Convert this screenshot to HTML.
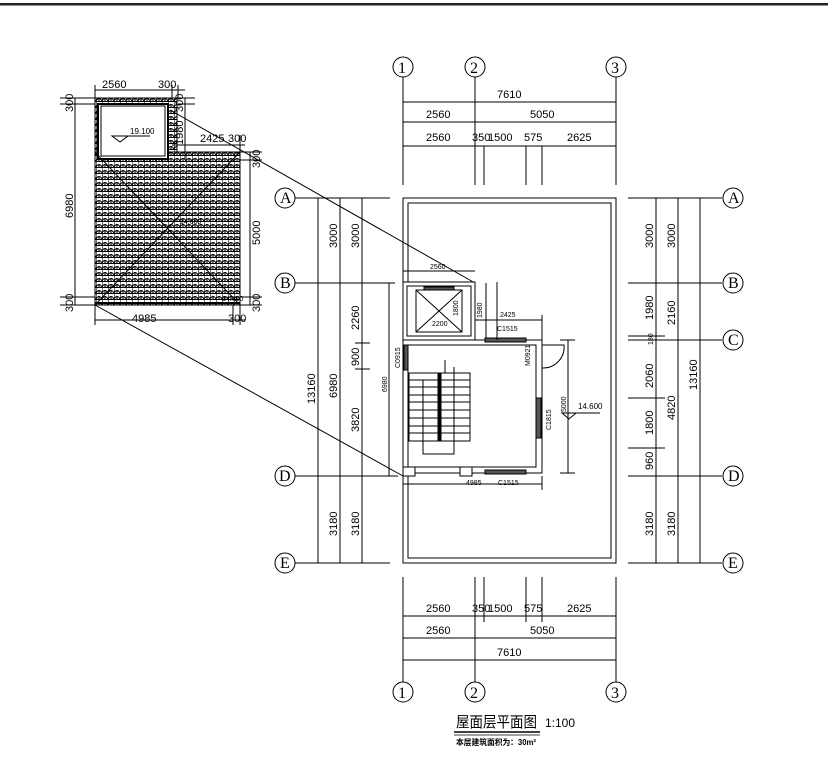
<!DOCTYPE html>
<html><head><meta charset="utf-8"><style>
html,body{margin:0;padding:0;background:#fff}
svg{display:block}
text{font-family:"Liberation Sans",sans-serif;font-size:11px;fill:#000}
.s{font-size:7px}
.c{font-family:"Liberation Serif",serif;font-size:16px}
</style></head><body>
<svg width="828" height="766" viewBox="0 0 828 766" xmlns="http://www.w3.org/2000/svg">
<defs>
<pattern id="tile" width="6" height="6" patternUnits="userSpaceOnUse">
<rect width="6" height="6" fill="#fff"/>
<path d="M0 5 Q3 0 6 5 M0 5.5 H6 M0 0 V6 M3 2 V5" stroke="#000" stroke-width="1.1" fill="none"/>
</pattern>
</defs>
<rect x="0" y="3" width="828" height="2.5" fill="#222"/>
<g stroke="#000" stroke-width="1" fill="none">
<!-- left detail -->
<rect x="95" y="98" width="82" height="62" fill="url(#tile)"/>
<rect x="95" y="152" width="145" height="153" fill="url(#tile)"/>
<rect x="98" y="104" width="70" height="55" fill="#fff" stroke-width="2"/>
<rect x="101" y="106" width="64" height="50" fill="#fff"/>
<line x1="95" y1="305" x2="240" y2="152"/>
<line x1="95" y1="152" x2="240" y2="305"/>
<line x1="95" y1="303" x2="240" y2="303" stroke-width="2"/>
<line x1="170" y1="110" x2="475" y2="283"/>
<line x1="95" y1="305" x2="403" y2="476"/>
<line x1="75" y1="98" x2="75" y2="305"/>
<line x1="60" y1="98" x2="95" y2="98"/><line x1="60" y1="104" x2="95" y2="104"/>
<line x1="60" y1="297" x2="95" y2="297"/><line x1="60" y1="305" x2="95" y2="305"/>
<line x1="95" y1="90" x2="185" y2="90"/>
<line x1="95" y1="85" x2="95" y2="98"/><line x1="172" y1="85" x2="172" y2="98"/><line x1="178" y1="85" x2="178" y2="98"/>
<line x1="185" y1="98" x2="185" y2="160"/>
<line x1="178" y1="98" x2="195" y2="98"/><line x1="178" y1="104" x2="195" y2="104"/>
<line x1="172" y1="145" x2="245" y2="145"/>
<line x1="240" y1="135" x2="240" y2="152"/>
<line x1="250" y1="152" x2="250" y2="305"/>
<line x1="240" y1="152" x2="262" y2="152"/><line x1="240" y1="160" x2="262" y2="160"/>
<line x1="240" y1="297" x2="262" y2="297"/><line x1="240" y1="305" x2="262" y2="305"/>
<line x1="95" y1="320" x2="245" y2="320"/>
<line x1="95" y1="305" x2="95" y2="325"/><line x1="233" y1="305" x2="233" y2="325"/><line x1="240" y1="305" x2="240" y2="325"/>
<path d="M112 136 L120 142 L128 136 Z M120 136 H150"/>
<!-- grid top -->
<line x1="403" y1="77" x2="403" y2="185"/><line x1="475" y1="77" x2="475" y2="185"/><line x1="616" y1="77" x2="616" y2="185"/>
<line x1="484" y1="146" x2="484" y2="185"/><line x1="526" y1="146" x2="526" y2="185"/><line x1="542" y1="146" x2="542" y2="185"/>
<line x1="403" y1="102" x2="616" y2="102"/><line x1="403" y1="122" x2="616" y2="122"/><line x1="403" y1="146" x2="616" y2="146"/>
<circle cx="403" cy="67" r="10"/><circle cx="475" cy="67" r="10"/><circle cx="616" cy="67" r="10"/>
<!-- grid bottom -->
<line x1="403" y1="577" x2="403" y2="682"/><line x1="475" y1="577" x2="475" y2="682"/><line x1="616" y1="577" x2="616" y2="682"/>
<line x1="484" y1="577" x2="484" y2="622"/><line x1="526" y1="577" x2="526" y2="622"/><line x1="542" y1="577" x2="542" y2="622"/>
<line x1="403" y1="616" x2="616" y2="616"/><line x1="403" y1="638" x2="616" y2="638"/><line x1="403" y1="660" x2="616" y2="660"/>
<circle cx="403" cy="692" r="10"/><circle cx="475" cy="692" r="10"/><circle cx="616" cy="692" r="10"/>
<!-- left rows -->
<line x1="295" y1="198" x2="390" y2="198"/><line x1="295" y1="283" x2="390" y2="283"/>
<line x1="295" y1="476" x2="398" y2="476"/><line x1="295" y1="563" x2="390" y2="563"/>
<line x1="318" y1="198" x2="318" y2="563"/><line x1="340" y1="198" x2="340" y2="563"/><line x1="362" y1="198" x2="362" y2="563"/>
<line x1="355" y1="343" x2="370" y2="343"/><line x1="355" y1="369" x2="370" y2="369"/>
<line x1="389" y1="283" x2="389" y2="476"/><line x1="385" y1="283" x2="395" y2="283"/>
<circle cx="285" cy="198" r="10"/><circle cx="285" cy="283" r="10"/><circle cx="285" cy="476" r="10"/><circle cx="285" cy="563" r="10"/>
<!-- right rows -->
<line x1="628" y1="198" x2="722" y2="198"/><line x1="628" y1="283" x2="722" y2="283"/>
<line x1="628" y1="340" x2="722" y2="340"/><line x1="628" y1="336" x2="665" y2="336"/>
<line x1="628" y1="476" x2="722" y2="476"/><line x1="628" y1="563" x2="722" y2="563"/>
<line x1="656" y1="198" x2="656" y2="563"/><line x1="678" y1="198" x2="678" y2="563"/><line x1="700" y1="198" x2="700" y2="563"/>
<line x1="628" y1="398" x2="665" y2="398"/><line x1="628" y1="448" x2="665" y2="448"/>
<circle cx="733" cy="198" r="10"/><circle cx="733" cy="283" r="10"/><circle cx="733" cy="340" r="10"/><circle cx="733" cy="476" r="10"/><circle cx="733" cy="563" r="10"/>
<!-- roof outline -->
<rect x="403" y="198" width="213" height="365"/>
<rect x="408" y="203" width="203" height="355"/>
<!-- building -->
<rect x="403" y="282" width="72" height="58" fill="#fff"/>
<rect x="407" y="286" width="64" height="50"/>
<rect x="416" y="290" width="46" height="42"/>
<line x1="416" y1="290" x2="462" y2="332"/><line x1="462" y1="290" x2="416" y2="332"/>
<rect x="424" y="287" width="30" height="3" fill="#555"/>
<line x1="403" y1="271" x2="475" y2="271"/>
<line x1="475" y1="320" x2="542" y2="320"/><line x1="542" y1="315" x2="542" y2="340"/>
<line x1="486" y1="283" x2="486" y2="340"/>
<path d="M403 340 H542 V473 H403 Z" fill="#fff"/>
<path d="M408 345 H536 V467 H408 Z"/>
<rect x="485" y="338" width="41" height="4" fill="#555"/>
<rect x="485" y="470" width="41" height="4" fill="#555"/>
<rect x="404" y="345" width="4" height="25" fill="#555"/>
<rect x="536" y="398" width="5" height="40" fill="#555"/>
<path d="M542 345 H564 A21 21 0 0 1 542 368"/>
<rect x="409" y="373" width="61" height="68"/>
<line x1="409" y1="380" x2="470" y2="380"/><line x1="409" y1="387" x2="470" y2="387"/>
<line x1="409" y1="395" x2="470" y2="395"/><line x1="409" y1="402" x2="470" y2="402"/>
<line x1="409" y1="410" x2="470" y2="410"/><line x1="409" y1="418" x2="470" y2="418"/>
<line x1="409" y1="426" x2="470" y2="426"/><line x1="409" y1="433" x2="470" y2="433"/>
<rect x="438" y="373" width="3" height="68" fill="#000"/>
<path d="M423 380 V454 H454 V367"/>
<rect x="403" y="467" width="12" height="9" fill="#fff"/>
<rect x="460" y="467" width="12" height="9" fill="#fff"/>
<line x1="403" y1="484" x2="542" y2="484"/><line x1="542" y1="476" x2="542" y2="490"/>
<line x1="568" y1="340" x2="568" y2="473"/>
<line x1="560" y1="340" x2="575" y2="340"/><line x1="560" y1="473" x2="575" y2="473"/>
<line x1="497" y1="282" x2="497" y2="340"/>
<path d="M562 413 L569 419 L576 413 Z M569 413 H600"/>
<line x1="445" y1="360" x2="445" y2="373"/>
</g>
<!-- text -->
<g>
<text x="102" y="88">2560</text><text x="158" y="88">300</text>
<text x="130" y="134" style="font-size:8px">19.100</text>
<text x="200" y="142">2425</text><text x="228" y="142">300</text>
<text x="132" y="322">4985</text><text x="228" y="322">300</text>
<text x="180" y="224" style="font-size:7px">14.600</text>
<text x="222" y="301" style="font-size:7px">14.600</text>
<text transform="translate(73,112) rotate(-90)">300</text>
<text transform="translate(73,218) rotate(-90)">6980</text>
<text transform="translate(73,312) rotate(-90)">300</text>
<text transform="translate(183,112) rotate(-90)">300</text>
<text transform="translate(183,145) rotate(-90)">1980</text>
<text transform="translate(260,168) rotate(-90)">300</text>
<text transform="translate(260,245) rotate(-90)">5000</text>
<text transform="translate(260,312) rotate(-90)">300</text>
<text x="497" y="98">7610</text>
<text x="426" y="118">2560</text><text x="530" y="118">5050</text>
<text x="426" y="141">2560</text><text x="472" y="141">350</text><text x="488" y="141">1500</text><text x="524" y="141">575</text><text x="567" y="141">2625</text>
<text x="426" y="612">2560</text><text x="472" y="612">350</text><text x="488" y="612">1500</text><text x="524" y="612">575</text><text x="567" y="612">2625</text>
<text x="426" y="634">2560</text><text x="530" y="634">5050</text>
<text x="497" y="656">7610</text>
<text class="c" x="398" y="73">1</text><text class="c" x="470" y="73">2</text><text class="c" x="611" y="73">3</text>
<text class="c" x="398" y="698">1</text><text class="c" x="470" y="698">2</text><text class="c" x="611" y="698">3</text>
<text class="c" x="280" y="203">A</text><text class="c" x="280" y="288">B</text><text class="c" x="279" y="481">D</text><text class="c" x="280" y="568">E</text>
<text class="c" x="728" y="203">A</text><text class="c" x="728" y="288">B</text><text class="c" x="728" y="345">C</text><text class="c" x="728" y="481">D</text><text class="c" x="728" y="568">E</text>
<text transform="translate(337,248) rotate(-90)">3000</text>
<text transform="translate(359,248) rotate(-90)">3000</text>
<text transform="translate(359,330) rotate(-90)">2260</text>
<text transform="translate(359,366) rotate(-90)">900</text>
<text transform="translate(359,432) rotate(-90)">3820</text>
<text transform="translate(337,398) rotate(-90)">6980</text>
<text transform="translate(315,404) rotate(-90)">13160</text>
<text transform="translate(337,536) rotate(-90)">3180</text>
<text transform="translate(359,536) rotate(-90)">3180</text>
<text class="s" transform="translate(387,392) rotate(-90)">6980</text>
<text class="s" transform="translate(400,368) rotate(-90)">C0915</text>
<text transform="translate(653,248) rotate(-90)">3000</text>
<text transform="translate(675,248) rotate(-90)">3000</text>
<text transform="translate(653,320) rotate(-90)">1980</text>
<text transform="translate(675,325) rotate(-90)">2160</text>
<text class="s" transform="translate(653,345) rotate(-90)">180</text>
<text transform="translate(653,388) rotate(-90)">2060</text>
<text transform="translate(675,420) rotate(-90)">4820</text>
<text transform="translate(653,435) rotate(-90)">1800</text>
<text transform="translate(697,390) rotate(-90)">13160</text>
<text transform="translate(653,470) rotate(-90)">960</text>
<text transform="translate(653,536) rotate(-90)">3180</text>
<text transform="translate(675,536) rotate(-90)">3180</text>
<text class="s" x="430" y="269">2560</text>
<text class="s" x="432" y="326">2200</text>
<text class="s" transform="translate(458,316) rotate(-90)">1800</text>
<text class="s" transform="translate(482,318) rotate(-90)">1980</text>
<text class="s" x="500" y="317">2425</text>
<text class="s" x="497" y="331">C1515</text>
<text class="s" transform="translate(530,366) rotate(-90)">M0921</text>
<text class="s" transform="translate(551,430) rotate(-90)">C1815</text>
<text class="s" transform="translate(566,412) rotate(-90)">5000</text>
<text x="578" y="409" style="font-size:8px">14.600</text>
<text class="s" x="466" y="485">4985</text>
<text class="s" x="498" y="485">C1515</text>
<text x="456" y="727" textLength="81" lengthAdjust="spacingAndGlyphs" style="font-family:'Liberation Sans','Noto Sans CJK SC',sans-serif;font-size:15px">屋面层平面图</text>
<text x="545" y="727" style="font-size:12px">1:100</text>
<text x="456" y="745" textLength="80" lengthAdjust="spacingAndGlyphs" style="font-family:'Liberation Sans','Noto Sans CJK SC',sans-serif;font-size:8px;font-weight:bold">本层建筑面积为：30m²</text>
</g>
<line x1="454" y1="732" x2="540" y2="732" stroke="#000" stroke-width="1.5"/>
<line x1="454" y1="735" x2="540" y2="735" stroke="#000" stroke-width="0.8"/>
</svg>
</body></html>
